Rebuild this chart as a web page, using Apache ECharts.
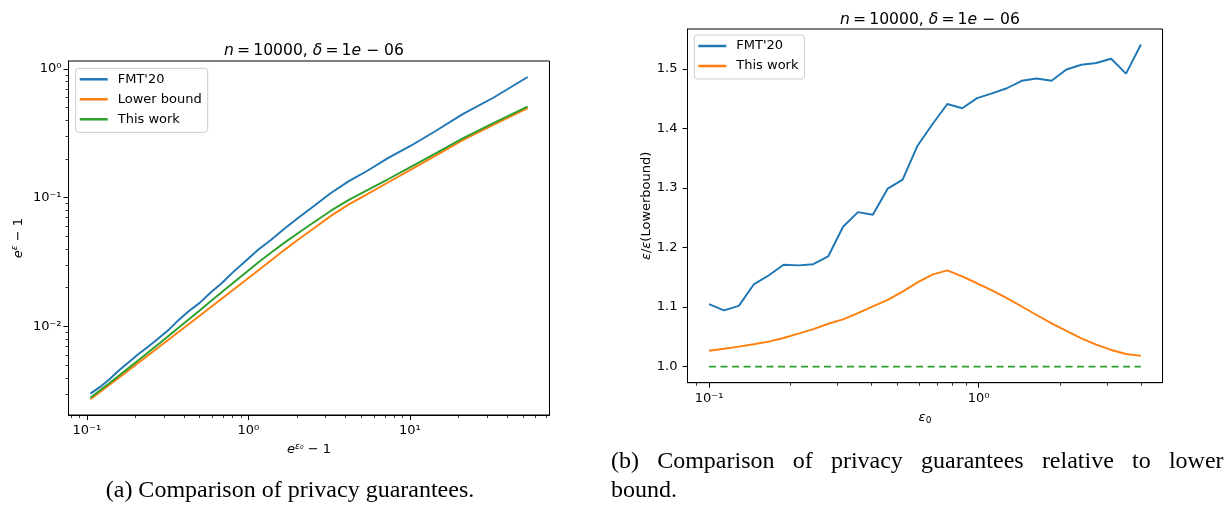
<!DOCTYPE html>
<html><head><meta charset="utf-8">
<script src="https://cdn.jsdelivr.net/npm/echarts@6/dist/echarts.min.js"></script>
<style>html,body{margin:0;padding:0;background:#fff}#c{width:1229px;height:508px}</style>
</head><body><div id="c"></div>
<script>
// ---- data ----
const eps0 = [0.1, 0.11356, 0.12897, 0.14646, 0.16633, 0.18889, 0.21452, 0.24361, 0.27666, 0.31419, 0.35681, 0.40521, 0.46017, 0.52260, 0.59349, 0.67400, 0.76543, 0.86926, 0.98713, 1.12104, 1.27311, 1.44581, 1.64193, 1.86466, 2.11760, 2.40486, 2.73108, 3.10155, 3.52227, 4.0];
const leftX = [0.10517, 0.12026, 0.13765, 0.15773, 0.18096, 0.20791, 0.23926, 0.27584, 0.31873, 0.36914, 0.42878, 0.49967, 0.58438, 0.68650, 0.81030, 0.96215, 1.14996, 1.38514, 1.68351, 2.06805, 2.57191, 3.24496, 4.16494, 5.45361, 7.31207, 10.077, 14.350, 21.232, 32.862, 53.598];
const leftFMT = [0.003010, 0.003383, 0.003875, 0.004553, 0.005260, 0.006092, 0.006973, 0.008020, 0.009332, 0.011197, 0.013206, 0.015252, 0.018387, 0.021746, 0.026663, 0.032284, 0.039469, 0.047162, 0.057876, 0.070757, 0.087073, 0.108798, 0.133826, 0.161810, 0.202996, 0.252000, 0.328000, 0.445000, 0.596720, 0.865000];
const leftLower = [0.002723, 0.003090, 0.003516, 0.004000, 0.004560, 0.005200, 0.005957, 0.006839, 0.007870, 0.009057, 0.010471, 0.012134, 0.014125, 0.016520, 0.019364, 0.022856, 0.027227, 0.032659, 0.039537, 0.047973, 0.058479, 0.072277, 0.088308, 0.106660, 0.131220, 0.164437, 0.211349, 0.279254, 0.368129, 0.495450];
const leftThis = [0.002799, 0.003184, 0.003631, 0.004150, 0.004753, 0.005445, 0.006281, 0.007261, 0.008414, 0.009772, 0.011402, 0.013335, 0.015704, 0.018535, 0.021979, 0.026182, 0.031405, 0.037497, 0.044978, 0.053951, 0.065013, 0.079250, 0.095719, 0.114288, 0.138995, 0.172584, 0.219786, 0.288403, 0.378443, 0.508159];
const ratioFMT = [1.105, 1.0945, 1.102, 1.138, 1.153, 1.171, 1.170, 1.172, 1.185, 1.235, 1.2595, 1.255, 1.299, 1.314, 1.371, 1.407, 1.441, 1.434, 1.451, 1.459, 1.4675, 1.480, 1.484, 1.480, 1.499, 1.507, 1.510, 1.517, 1.492, 1.541];
const ratioThis = [1.0268, 1.030, 1.0336, 1.0375, 1.042, 1.048, 1.0554, 1.063, 1.072, 1.0794, 1.090, 1.101, 1.112, 1.126, 1.1415, 1.1544, 1.1616, 1.1516, 1.140, 1.128, 1.115, 1.101, 1.0867, 1.0727, 1.060, 1.0475, 1.037, 1.028, 1.0213, 1.018];
const ratioLower = [1,1,1,1,1,1,1,1,1,1,1,1,1,1,1,1,1,1,1,1,1,1,1,1,1,1,1,1,1,1];

// tick values
const leftXMajor = [0.1, 1, 10];
const leftXMinor = [0.08, 0.09, 0.2, 0.3, 0.4, 0.5, 0.6, 0.7, 0.8, 0.9, 2, 3, 4, 5, 6, 7, 8, 9, 20, 30, 40, 50, 60, 70];
const leftYMajor = [0.01, 0.1, 1];
const leftYMinor = [0.003, 0.004, 0.005, 0.006, 0.007, 0.008, 0.009, 0.02, 0.03, 0.04, 0.05, 0.06, 0.07, 0.08, 0.09, 0.2, 0.3, 0.4, 0.5, 0.6, 0.7, 0.8, 0.9];
const rightXMajor = [0.1, 1];
const rightXMinor = [0.09, 0.2, 0.3, 0.4, 0.5, 0.6, 0.7, 0.8, 0.9, 2, 3, 4];
const rightYTicks = [1.0, 1.1, 1.2, 1.3, 1.4, 1.5];

const titleText = '{i|n}\u2009=\u200910000, {i|δ}\u2009=\u20091{i|e} − 06';
const captionA = '(a) Comparison of privacy guarantees.';
const captionB1 = ['(b)', 'Comparison', 'of', 'privacy', 'guarantees', 'relative', 'to', 'lower'];
const captionB2 = 'bound.';

// ---- styling ----
const FONT = 'DejaVu Sans';
const FS = 13;
const C_BLUE = '#1f77b4', C_ORANGE = '#ff7f0e', C_GREEN = '#2ca02c';
const SUP = {'-': '⁻', '0': '⁰', '1': '¹', '2': '²', '3': '³', '4': '⁴', '5': '⁵', '6': '⁶', '7': '⁷', '8': '⁸', '9': '⁹'};
function powFmt(v) {
  const e = Math.round(Math.log10(v));
  return '10' + String(e).split('').map(c => SUP[c]).join('');
}
const mathRich = {
  i: {fontStyle: 'italic', fontFamily: FONT, fontSize: FS, color: '#000'},
  t: {fontFamily: FONT, fontSize: FS, color: '#000'},
  sup: {fontStyle: 'italic', fontFamily: FONT, fontSize: 9, color: '#000', padding: [0, 0, 7, 0]},
  sub: {fontStyle: 'normal', fontFamily: FONT, fontSize: 9, color: '#000', padding: [6, 0, 0, 0]}
};
const tickLabel = (vals, fmt, margin) => ({show: true, customValues: vals, formatter: fmt, color: '#000', fontSize: FS, fontFamily: FONT, margin: margin});

function majorAxis(grid, type, min, max, ticks, fmt, extra) {
  return Object.assign({
    gridIndex: grid, type: type, min: min, max: max,
    axisLine: {show: true, onZero: false, lineStyle: {color: '#000', width: 1}},
    axisTick: {show: true, customValues: ticks, length: 5, lineStyle: {color: '#000', width: 1}},
    splitLine: {show: false}
  }, extra);
}
function minorAxis(grid, min, max, ticks, pos) {
  return {
    gridIndex: grid, type: 'log', logBase: 10, min: min, max: max, position: pos, offset: 0,
    axisLine: {show: false},
    axisTick: {show: true, customValues: ticks, length: 3, lineStyle: {color: '#000', width: 0.8}},
    axisLabel: {show: false},
    splitLine: {show: false}
  };
}

const xAxis = [
  majorAxis(0, 'log', 0.077, 73.2, leftXMajor, powFmt, {
    logBase: 10, position: 'bottom',
    axisLabel: tickLabel(leftXMajor, powFmt, 9),
    name: '{i|e}{sup|ε₀}{t| − 1}', nameLocation: 'middle', nameGap: 27,
    nameTextStyle: {rich: mathRich}
  }),
  minorAxis(0, 0.077, 73.2, leftXMinor, 'bottom'),
  majorAxis(1, 'log', 0.0832, 4.81, rightXMajor, powFmt, {
    logBase: 10, position: 'bottom',
    axisLabel: tickLabel(rightXMajor, powFmt, 9),
    name: '{i|ε}{sub|0}', nameLocation: 'middle', nameGap: 27,
    nameTextStyle: {rich: mathRich}
  }),
  minorAxis(1, 0.0832, 4.81, rightXMinor, 'bottom')
];
const yAxis = [
  majorAxis(0, 'log', 0.002056, 1.151, leftYMajor, powFmt, {
    logBase: 10, position: 'left',
    axisLabel: tickLabel(leftYMajor, powFmt, 7),
    name: '{i|e}{sup|ε}{t| − 1}', nameLocation: 'middle', nameGap: 42, nameRotate: 90,
    nameTextStyle: {rich: mathRich}
  }),
  minorAxis(0, 0.002056, 1.151, leftYMinor, 'left'),
  majorAxis(1, 'value', 0.973, 1.567, rightYTicks, v => v.toFixed(1), {
    position: 'left',
    axisLabel: tickLabel(rightYTicks, v => v.toFixed(1), 10),
    name: '{i|ε}{t|/}{i|ε}{t|(Lowerbound)}', nameLocation: 'middle', nameGap: 34, nameRotate: 90,
    nameTextStyle: {rich: mathRich}
  })
];

function lineSeries(name, xs, ys, color, xi, yi, dashed) {
  return {
    name: name, type: 'line', xAxisIndex: xi, yAxisIndex: yi,
    data: xs.map((x, k) => [x, ys[k]]),
    showSymbol: false, symbol: 'none', smooth: false, animation: false,
    lineStyle: {color: color, width: 1.95, type: dashed ? [7, 4.5] : 'solid'},
    itemStyle: {color: color}
  };
}

const legendCommon = {
  orient: 'vertical', icon: 'rect', itemWidth: 28, itemHeight: 2.5, itemGap: 4,
  backgroundColor: 'rgba(255,255,255,0.8)', borderColor: '#cccccc', borderWidth: 1, borderRadius: 3,
  textStyle: {fontFamily: FONT, fontSize: FS, color: '#000', lineHeight: 16, padding: [0, 0, 0, 5]},
  selectedMode: false
};
const titleStyle = {fontFamily: FONT, fontSize: 15.6, fontWeight: 'normal', color: '#000',
  rich: {i: {fontStyle: 'italic', fontFamily: FONT, fontSize: 15.6, color: '#000'}}};

const option = {
  backgroundColor: '#fff',
  animation: false,
  textStyle: {fontFamily: FONT},
  grid: [
    {left: 68.5, top: 61, width: 481, height: 354, show: true, borderColor: '#000', borderWidth: 1, backgroundColor: 'transparent'},
    {left: 687.5, top: 29, width: 475, height: 353.7, show: true, borderColor: '#000', borderWidth: 1, backgroundColor: 'transparent'}
  ],
  title: [
    {text: titleText, left: 309, top: 38, textAlign: 'center', textStyle: titleStyle},
    {text: titleText, left: 925, top: 6.5, textAlign: 'center', textStyle: titleStyle}
  ],
  legend: [
    Object.assign({}, legendCommon, {left: 75.7, top: 68.3, padding: [3, 6, 5, 4],
      data: [{name: "FMT'20", itemStyle: {color: C_BLUE}}, {name: 'Lower bound', itemStyle: {color: C_ORANGE}}, {name: 'This work', itemStyle: {color: C_GREEN}}]}),
    Object.assign({}, legendCommon, {left: 694.3, top: 35, padding: [3, 6, 5, 4],
      data: [{name: "FMT'20", itemStyle: {color: C_BLUE}}, {name: 'This work', itemStyle: {color: C_ORANGE}}]})
  ],
  xAxis: xAxis,
  yAxis: yAxis,
  series: [
    lineSeries("FMT'20", leftX, leftFMT, C_BLUE, 0, 0),
    lineSeries('Lower bound', leftX, leftLower, C_ORANGE, 0, 0),
    lineSeries('This work', leftX, leftThis, C_GREEN, 0, 0),
    lineSeries("FMT'20", eps0, ratioFMT, C_BLUE, 2, 2),
    lineSeries('This work', eps0, ratioThis, C_ORANGE, 2, 2),
    lineSeries('Lower bound', eps0, ratioLower, C_GREEN, 2, 2, true)
  ],
  graphic: [
    {type: 'text', x: 290, y: 491, style: {text: captionA, fontFamily: 'Liberation Serif', fontSize: 24, fill: '#000', align: 'center', verticalAlign: 'middle'}},
    {type: 'text', x: 611, y: 462, style: {text: captionB1.join('{sp| }'), fontFamily: 'Liberation Serif', fontSize: 24, fill: '#000', align: 'left', verticalAlign: 'middle',
      rich: {sp: {width: 18.2, fontFamily: 'Liberation Serif', fontSize: 24}}}},
    {type: 'text', x: 611, y: 491, style: {text: captionB2, fontFamily: 'Liberation Serif', fontSize: 24, fill: '#000', align: 'left', verticalAlign: 'middle'}}
  ]
};

const chart = echarts.init(document.getElementById('c'), null, {renderer: 'canvas'});
chart.setOption(option);
</script>
</body></html>
